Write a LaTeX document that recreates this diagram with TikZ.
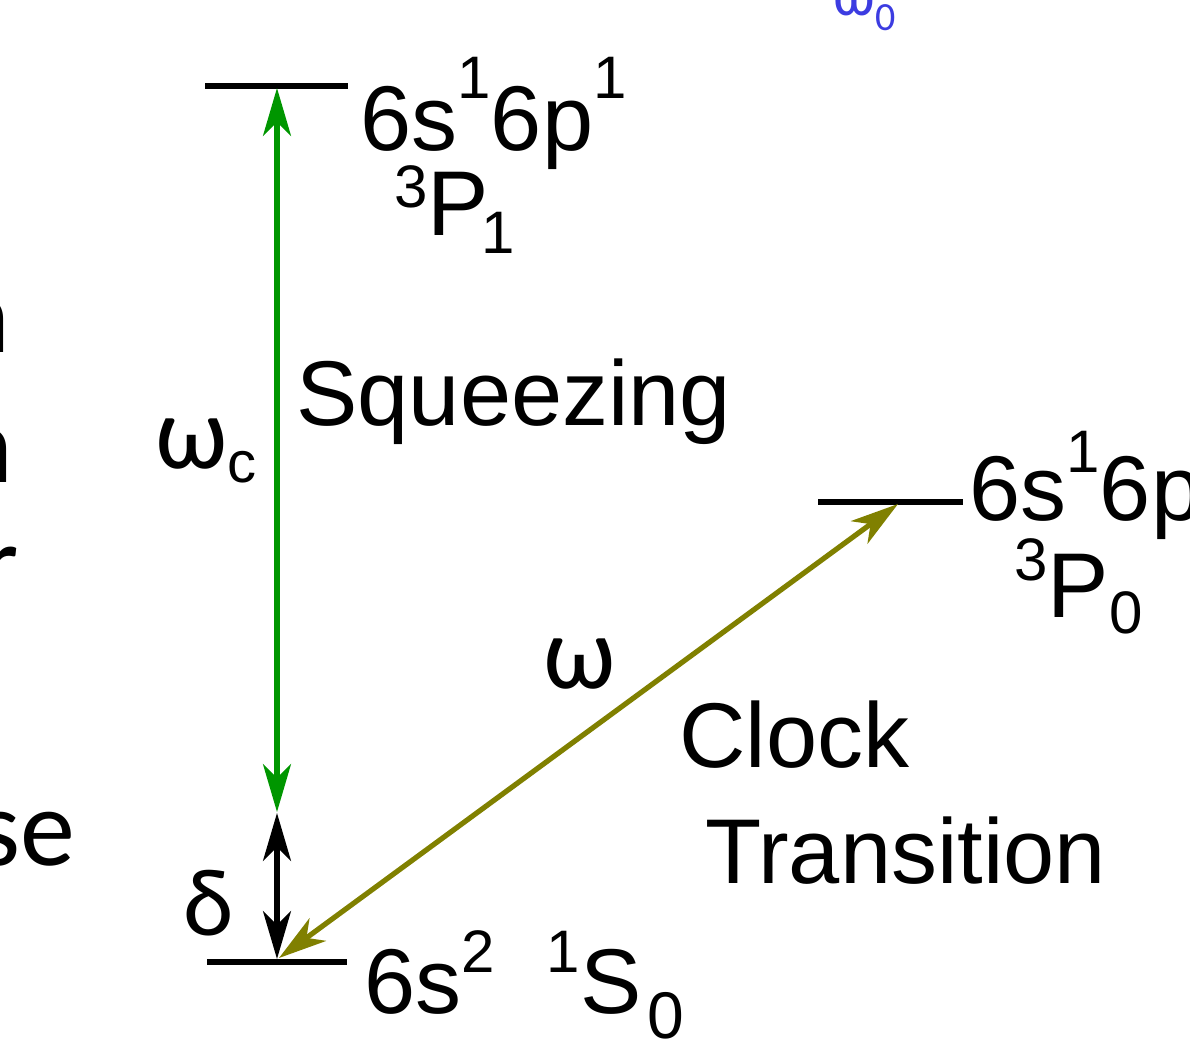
\documentclass[tikz,border=0pt]{standalone}
\usepackage{fontspec}
\setmainfont{Liberation Sans}
\newfontfamily\calfont{Carlito}
\usetikzlibrary{arrows.meta}
\definecolor{sqgreen}{RGB}{0,150,0}
\definecolor{clkolive}{RGB}{128,128,0}
\definecolor{wblue}{RGB}{60,60,225}
\newcommand{\up}[2]{\raisebox{#1}{\fontsize{30}{30}\selectfont #2}}

\begin{document}
\begin{tikzpicture}[x=0.5pt,y=-0.5pt,
  big/.style={inner sep=0,anchor=base west,font=\fontsize{46}{52}\selectfont},
  greek/.style={inner sep=0,anchor=base west,font=\calfont\fontsize{52}{58}\selectfont},
  side/.style={inner sep=0,anchor=base east,font=\calfont\fontsize{55}{60}\selectfont},
  lvl/.style={line width=2.6pt},
  tr/.style={line width=2.6pt,>={Stealth[length=24pt,width=14pt,inset=7pt]},<->}]
 \useasboundingbox (0,0) rectangle (1190,1050);
 % levels
 \coordinate (p1a) at (205,86);  \coordinate (p1b) at (348,86);
 \coordinate (p0a) at (818,502); \coordinate (p0b) at (963,502);
 \coordinate (s0a) at (207,962); \coordinate (s0b) at (347,962);
 \draw[lvl] (p1a)--(p1b);
 \draw[lvl] (p0a)--(p0b);
 \draw[lvl] (s0a)--(s0b);
 % transitions
 \coordinate (p1tip) at (277,88);  \coordinate (gap) at (277,812);
 \coordinate (gapb) at (277,813);  \coordinate (s0tip) at (277,959);
 \coordinate (s0c) at (279,958);   \coordinate (p0tip) at (898,504);
 \draw[tr,sqgreen] (p1tip)--(gap);
 \draw[tr] (gapb)--(s0tip);
 \draw[tr,clkolive] (s0c)--(p0tip);
 % state labels
 \node[big] (p1lab) at (360,150) {6s\up{26pt}{1}6p\up{26pt}{1}};
 \node[big] (p1term) at (394,235) {\up{14pt}{3}P\hspace{-4pt}\up{-9pt}{1}};
 \node[big] (p0lab) at (969,520) {6s\up{24pt}{1}6p\up{24pt}{1}};
 \node[big] (p0term) at (1014,617) {\up{18.5pt}{3}P\up{-8pt}{0}};
 \node[big] (s0lab) at (364,1013) {6s\up{20.5pt}{2}\hspace{26pt}\up{20.5pt}{1}S\hspace{3pt}\up{-12.5pt}{\fontsize{33}{33}\selectfont 0}};
 \node[big] (sq) at (296,425) {Squeezing};
 \node[big] (clk) at (679,767) {Clock};
 \node[big] (trn) at (705,883) {Transition};
 % frequencies
 \node[greek] (wc) at (155,468) {ω\raisebox{-7pt}{\rmfamily\fontsize{29}{29}\selectfont c}};
 \node[greek] (w) at (543,688) {ω};
 \node[greek,font=\calfont\fontsize{48}{54}\selectfont] (dl) at (183,935) {δ};
 \node[greek,wblue,font=\calfont\fontsize{30}{30}\selectfont] (w0) at (833,15)
   {ω\raisebox{-7.5pt}{\fontsize{20}{20}\selectfont 0}};
 % text of the panel on the left, cut off
 \foreach \x/\y/\t [count=\i] in {11/352/n,14/482/n,19/600/r,76/865/se}
   {\node[side] (side\i) at (\x,\y) {\t};}
\end{tikzpicture}
\end{document}
